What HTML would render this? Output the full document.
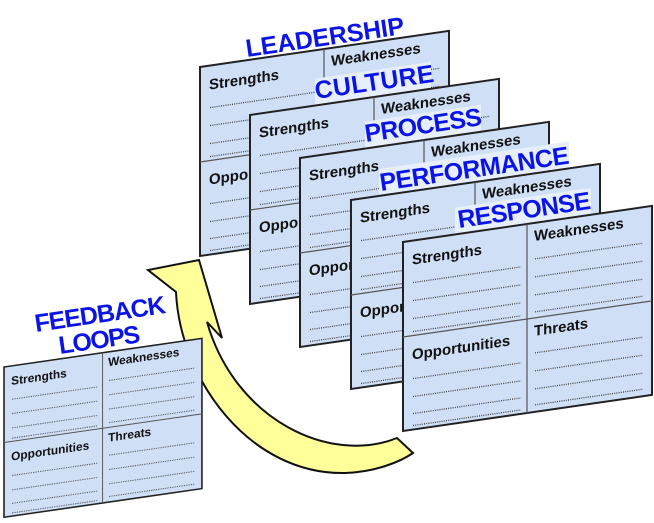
<!DOCTYPE html>
<html><head><meta charset="utf-8"><style>
html,body{margin:0;padding:0;background:#fff;width:654px;height:523px;overflow:hidden}
svg{display:block}
.lb{font-family:"Liberation Sans",sans-serif;font-weight:bold;font-size:15px;fill:#111}
.t{font-family:"Liberation Sans",sans-serif;font-weight:900;font-size:25px;fill:#0a14e6}
</style></head><body>
<svg width="654" height="523" viewBox="0 0 654 523" xmlns="http://www.w3.org/2000/svg">
<defs>
<g id="dl" stroke="#444" stroke-width="1.3" stroke-dasharray="1 1.2">
<line x1="10" y1="42" x2="118" y2="42"/><line x1="10" y1="60" x2="118" y2="60"/><line x1="10" y1="78" x2="118" y2="78"/><line x1="10" y1="91" x2="118" y2="91"/>
<line x1="10" y1="138" x2="118" y2="138"/><line x1="10" y1="156" x2="118" y2="156"/><line x1="10" y1="173" x2="118" y2="173"/><line x1="10" y1="185" x2="118" y2="185"/>
<line x1="132" y1="36" x2="240" y2="36"/><line x1="132" y1="54" x2="240" y2="54"/><line x1="132" y1="72" x2="240" y2="72"/><line x1="132" y1="89" x2="240" y2="89"/>
<line x1="132" y1="130" x2="240" y2="130"/><line x1="132" y1="148" x2="240" y2="148"/><line x1="132" y1="166" x2="240" y2="166"/><line x1="132" y1="182" x2="240" y2="182"/>
</g>
<g id="card">
<rect x="0" y="0" width="249" height="189" fill="#cfdff6" stroke="#222" stroke-width="2"/>
<line x1="124" y1="0" x2="124" y2="189" stroke="#555" stroke-width="1.2"/>
<line x1="0" y1="95" x2="249" y2="95" stroke="#555" stroke-width="1.2"/>
<use href="#dl"/>
<text class="lb" x="9" y="24">Strengths</text>
<text class="lb" x="131" y="18">Weaknesses</text>
<text class="lb" x="9" y="119">Opportunities</text>
<text class="lb" x="131" y="113">Threats</text>
</g>
</defs>

<g transform="matrix(1,-0.145,0,1,200,67)"><use href="#card"/></g>
<text class="t" transform="translate(247,57) rotate(-8.3)" textLength="160">LEADERSHIP</text>

<g transform="matrix(1,-0.145,0,1,250,115)"><rect x="65" y="-27" width="116" height="26" fill="#e6effb"/><use href="#card"/></g>
<text class="t" transform="translate(316,99) rotate(-8.3)" textLength="120">CULTURE</text>

<g transform="matrix(1,-0.145,0,1,300,158)"><rect x="65" y="-27" width="116" height="26" fill="#e6effb"/><use href="#card"/></g>
<text class="t" transform="translate(366,142) rotate(-8.3)" textLength="118">PROCESS</text>

<g transform="matrix(1,-0.145,0,1,351,200)"><rect x="28" y="-27" width="190" height="26" fill="#e6effb"/><use href="#card"/></g>
<text class="t" transform="translate(381,191) rotate(-8.3)" textLength="191">PERFORMANCE</text>

<g transform="matrix(1,-0.145,0,1,403,242)"><rect x="52" y="-27" width="136" height="26" fill="#e6effb"/><use href="#card"/></g>
<text class="t" transform="translate(459,228) rotate(-8.3)" textLength="134">RESPONSE</text>

<path d="M397,438 C330,465 235,420 207,322 L222,338 L199,260 L148,270 L176,292 C180,380 250,475 345,473 C375,472 400,462 413,453 Z" fill="#ffff99" stroke="#111" stroke-width="2" stroke-linejoin="miter"/>

<g transform="matrix(0.795,-0.115,0,0.795,4,367)"><use href="#card"/></g>
<text class="t" transform="translate(36,332) rotate(-8.3)" textLength="132">FEEDBACK</text>
<text class="t" transform="translate(60,354) rotate(-8.3)" textLength="82">LOOPS</text>
</svg>
</body></html>
